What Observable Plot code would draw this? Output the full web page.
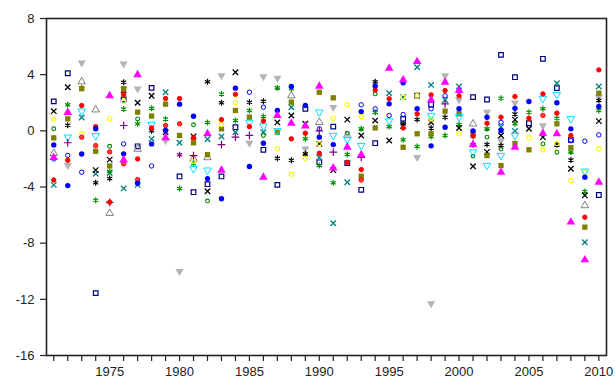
<!DOCTYPE html>
<html>
<head>
<meta charset="utf-8">
<script src="https://cdn.jsdelivr.net/npm/d3@7"></script>
<script src="https://cdn.jsdelivr.net/npm/@observablehq/plot@0.6"></script>
<style>
  html, body { margin: 0; padding: 0; background: #fff; }
  #chart svg { display: block; }
</style>
</head>
<body>
<div id="chart"></div>
<script>
const years = d3.range(1971, 2011);
const yTicks = [-16, -12, -8, -4, 0, 4, 8];
const xLabelYears = [1975, 1980, 1985, 1990, 1995, 2000, 2005, 2010];

// series values, one per year 1971..2010 (null = not shown)
const navySquare = [2.1,4.1,null,-11.56,null,2.23,-1.1,3.06,null,-3.25, -4.37,-3.8,-3.25,0.26,null,-1.35,-3.85,null,1.57,-2.24, 0.3,-2.3,-4.2,-0.88,null,0.85,2.51,1.87,null,null, 2.4,2.23,5.41,3.82,0.54,5.13,3.04,-0.64,null,-4.57];
const blackX = [1.4,3.1,null,-2.8,-2.05,2.9,2.0,2.5,-0.1,null, -0.4,-4.3,null,4.17,null,null,0.6,1.09,0.5,-0.93, -2.8,0.8,-0.33,0.73,-0.69,0.35,null,0.61,null,0.2, -2.52,-1.5,-0.33,0.8,0.15,-0.45,null,-2.7,-4.6,0.69];
const blackStar = [null,0.4,null,-3.7,-3.4,3.46,null,0.0,null,null, null,3.5,2.0,null,2.04,2.1,-1.95,-2.1,-1.64,null, null,null,null,3.5,null,0.5,0.8,0.2,0.97,null, -1.0,-0.98,-1.05,1.2,null,null,-1.0,-2.07,null,2.16];
const grayDown = [null,-2.45,4.85,null,null,4.77,3.0,null,-0.7,-10.0, null,null,3.94,null,-0.88,3.87,3.75,null,-1.28,null, 1.68,null,null,null,null,null,-1.88,-12.3,3.94,2.2, null,1.33,-0.7,2.0,null,0.38,null,null,null,2.4];
const grayUp = [-1.6,null,3.5,1.5,-5.87,null,-1.3,null,null,null, -2.0,-1.9,null,null,null,null,null,2.5,null,0.61, null,-0.33,null,null,null,null,null,null,null,null, 0.5,null,null,null,null,null,null,null,-5.32,null];
const greenStar = [null,1.85,3.05,-4.95,-2.9,1.55,0.5,1.6,0.85,-4.1, -2.35,0.6,2.63,0.73,1.45,1.02,3.06,2.99,-0.57,-2.47, -3.7,-1.69,0.14,1.3,0.3,-0.64,-1.12,-0.4,-0.33,0.45, -0.4,0.14,2.32,0.5,1.33,1.57,0.9,-1.5,-4.32,1.45];
const tealX = [-3.85,null,0.95,-3.05,-3.0,-4.1,-3.85,-0.57,2.75,-0.85, null,-0.6,-0.4,-0.1,null,-0.1,null,1.68,null,-1.9, -6.58,-3.66,null,null,2.68,2.4,4.53,3.27,2.2,3.16, null,null,0.27,0.0,null,null,3.39,null,-7.93,3.16];
const redCircle = [-3.5,-2.1,1.8,0.3,-5.08,2.6,-2.0,0.2,2.3,2.3, -0.5,null,0.8,2.6,0.3,0.7,null,-0.57,-0.17,-1.6, null,-2.24,-2.76,2.9,2.28,0.2,1.21,2.56,2.87,2.5, -0.35,0.54,0.97,2.44,0.9,2.63,1.26,-0.33,-6.15,4.34];
const redCircle2 = [null,null,-0.45,-1.05,-1.5,-2.35,-3.47,null,0.38,0.5, null,null,null,null,null,null,null,null,null,null, null,null,-3.5,null,null,null,null,null,null,null, null,null,null,null,null,1.1,null,null,null,null];
const blueDot = [-1.0,-3.9,-1.65,0.15,null,-1.64,-3.73,-0.93,0.02,1.9, 1.04,-3.4,-4.84,3.04,-2.54,-0.88,1.45,3.16,1.8,-0.45, -0.98,null,1.37,3.2,1.92,3.42,1.57,-1.07,0.26,1.57, 0.0,0.97,0.02,1.6,2.09,null,2.0,0.14,-3.3,1.73];
const blueRing = [-2.0,-1.75,-2.95,null,null,-0.93,null,-2.5,null,null, null,null,null,null,2.75,1.68,null,null,null,0.14, null,null,1.85,1.57,1.09,1.16,null,1.57,2.5,null, null,null,0.61,null,null,null,null,-0.7,-0.74,-0.29];
const yellowRing = [0.8,null,-0.2,null,0.85,2.1,null,null,null,null, -2.16,null,0.45,2.0,null,null,-1.28,-3.1,-1.95,-0.9, 0.9,1.87,1.04,null,null,2.4,2.5,0.85,null,-0.21, null,null,null,null,-0.5,-1.35,-0.9,-3.54,-2.95,-1.28];
const oliveSquare = [-0.5,0.85,3.0,-1.45,-2.5,3.0,1.33,1.05,1.9,-0.33, -0.85,-1.7,0.14,1.45,0.97,null,-0.1,2.04,null,2.75, 2.35,null,-3.23,0.21,null,-1.17,-0.21,-0.21,1.4,1.21, -0.2,-1.76,-2.47,-0.9,-1.35,null,0.5,-1.2,-6.86,2.68];
const magentaUp = [-1.9,1.3,null,null,2.5,-2.07,4.0,null,-0.5,null, null,-0.2,-2.8,null,null,-3.3,1.1,0.54,0.35,3.18, -2.64,-1.17,-1.71,null,4.46,3.63,4.93,2.2,3.46,2.87, -0.98,null,-2.95,-1.17,null,-0.17,-0.21,-6.5,-9.19,-3.66];
const cyanDown = [null,-0.45,1.4,-0.35,null,null,null,0.45,null,null, -2.7,-2.8,null,null,0.6,0.35,0.0,null,null,1.33, -0.33,-0.6,-1.05,null,0.7,null,null,1.09,null,1.0, -1.52,-2.47,-1.76,-0.33,null,2.3,2.59,0.85,-2.88,null];
const purplePlus = [null,-0.85,null,null,-5.1,0.38,null,null,null,null, -1.76,null,-0.98,-0.45,-0.33,null,null,null,null,0.0, -1.52,null,-1.9,null,null,null,null,null,1.92,null, null,null,null,null,null,null,null,null,null,null];
const greenRing = [0.15,null,null,null,-1.1,null,0.85,null,null,null, 0.43,-5.0,null,null,null,-0.33,null,null,null,null, null,-0.17,null,2.63,null,null,null,null,null,null, -1.8,-0.45,-1.3,null,null,-0.93,-1.52,null,null,null];
const purpleStar = [null,null,null,null,null,null,null,null,null,-1.7, null,null,null,null,null,null,null,null,null,null, null,null,null,null,null,null,null,null,null,null, null,null,null,null,null,null,null,null,null,null];

const triangleDown = {
  draw(context, size) {
    const y = -Math.sqrt(size / (Math.sqrt(3) * 3));
    context.moveTo(0, -y * 2);
    context.lineTo(-Math.sqrt(3) * y, y);
    context.lineTo(Math.sqrt(3) * y, y);
    context.closePath();
  }
};

const rows = arr => years.map((year, i) => ({year, value: arr[i]})).filter(d => d.value != null);

const series = [
  {data: navySquare, symbol: "square", fill: "none", stroke: "#000080", r: 2.6, sw: 1.2},
  {data: grayDown, symbol: triangleDown, fill: "#b4b4b4", stroke: "none", r: 3.0, sw: 1},
  {data: grayUp, symbol: "triangle", fill: "none", stroke: "#808080", r: 2.8, sw: 1},
  {data: tealX, symbol: "times", fill: "none", stroke: "#008080", r: 2.6, sw: 1.3},
  {data: greenStar, symbol: "asterisk", fill: "none", stroke: "#009000", r: 2.8, sw: 1.2},
  {data: blackStar, symbol: "asterisk", fill: "none", stroke: "#000000", r: 2.8, sw: 1.2},
  {data: blackX, symbol: "times", fill: "none", stroke: "#000000", r: 2.6, sw: 1.3},
  {data: oliveSquare, symbol: "square", fill: "#808000", stroke: "none", r: 3.0, sw: 1},
  {data: blueRing, symbol: "circle", fill: "none", stroke: "#0000ff", r: 2.2, sw: 1},
  {data: yellowRing, symbol: "circle", fill: "none", stroke: "#ffff00", r: 2.2, sw: 1.1},
  {data: greenRing, symbol: "circle", fill: "none", stroke: "#008000", r: 1.9, sw: 1.1},
  {data: cyanDown, symbol: triangleDown, fill: "none", stroke: "#00e0ff", r: 2.8, sw: 1},
  {data: purplePlus, symbol: "plus", fill: "none", stroke: "#800080", r: 2.6, sw: 1.2},
  {data: purpleStar, symbol: "asterisk", fill: "none", stroke: "#800080", r: 2.8, sw: 1.2},
  {data: redCircle2, symbol: "circle", fill: "#ff4040", stroke: "#ff0000", r: 2.2, sw: 1},
  {data: redCircle, symbol: "circle", fill: "#ff0000", stroke: "#ff0000", r: 2.2, sw: 1},
  {data: blueDot, symbol: "circle", fill: "#0000ff", stroke: "none", r: 2.7, sw: 1},
  {data: magentaUp, symbol: "triangle", fill: "#ff00ff", stroke: "none", r: 3.2, sw: 1}
];

const marks = series.map(s => Plot.dot(rows(s.data), {
  x: "year", y: "value", symbol: s.symbol, r: s.r,
  fill: s.fill, stroke: s.stroke, strokeWidth: s.sw
}));

const chart = Plot.plot({
  width: 615,
  height: 379,
  marginLeft: 46,
  marginTop: 18,
  marginRight: 9,
  marginBottom: 24,
  style: {fontFamily: "Liberation Sans, Arial, sans-serif", fontSize: "13px", color: "#222", background: "#fff"},
  x: {domain: [1970.48, 2010.55], label: null},
  y: {domain: [-16, 8], label: null},
  marks: [
    Plot.axisX({ticks: years, tickSize: 6, tickPadding: 5, tickFormat: d => xLabelYears.includes(d) ? String(d) : "", fontSize: 13, strokeWidth: 1.2, label: null}),
    Plot.axisY({ticks: yTicks, tickSize: 6, tickPadding: 6, tickFormat: d => String(d), fontSize: 13, strokeWidth: 1.2, label: null}),
    ...marks,
    Plot.frame({stroke: "#222", strokeWidth: 1.6})
  ]
});
document.getElementById("chart").appendChild(chart);
</script>
</body>
</html>
